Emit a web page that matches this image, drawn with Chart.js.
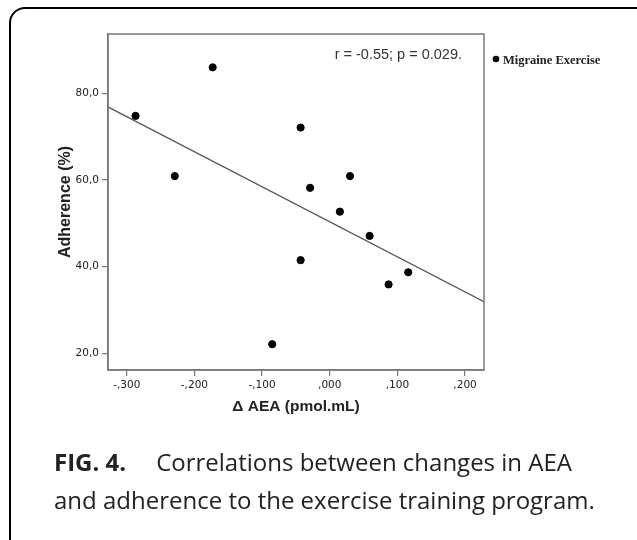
<!DOCTYPE html>
<html>
<head>
<meta charset="utf-8">
<script src="https://cdn.jsdelivr.net/npm/chart.js@4/dist/chart.umd.min.js"></script>
<style>
  body { margin: 0; background: #fff; }
  #wrap { position: relative; width: 637px; height: 540px; overflow: hidden; }
  #frame { position: absolute; left: 9px; top: 7px; width: 640px; height: 560px;
           border: 2.5px solid #000; border-radius: 16px; }
  #chart { position: absolute; left: 0; top: 0; }
  #caption { position: absolute; left: 54px; top: 443px; font-family: "Open Sans", sans-serif;
             font-size: 24px; line-height: 38px; color: #222; white-space: nowrap; }
  #caption b { font-weight: 700; margin-right: 30px; }
</style>
</head>
<body>
<div id="wrap">
  <div id="frame"></div>
  <canvas id="chart" width="637" height="540"></canvas>
  <div id="caption"><b>FIG. 4.</b>Correlations between changes in AEA<br>and adherence to the exercise training program.</div>
</div>
<script>
// data
var aeaChange = [-0.287, -0.229, -0.173, -0.043, -0.029, 0.030, 0.015, 0.059, -0.043, 0.116, 0.087, -0.085];
var adherence = [74.8, 60.9, 86.0, 72.1, 58.2, 60.9, 52.7, 47.1, 41.5, 38.7, 35.9, 22.1];

// fit line end points (as drawn)
var fitX = [-0.328, 0.228];
var fitY = [76.9, 31.9];

var xTicks = [-0.3, -0.2, -0.1, 0, 0.1, 0.2];
var yTicks = [20, 40, 60, 80];

var statText = "r = -0.55; p = 0.029.";

function fmtX(v) {
    var s = Math.abs(v).toFixed(3).replace("0.", ",");
    return (v < -1e-9 ? "-" : "") + s;
}
function fmtY(v) {
    return v.toFixed(1).replace(".", ",");
}

var points = aeaChange.map(function (x, i) { return { x: x, y: adherence[i] }; });
var fitLine = fitX.map(function (x, i) { return { x: x, y: fitY[i] }; });

var boxPlugin = {
    id: "box",
    afterDatasetsDraw: function (chart) {
        var ctx = chart.ctx, a = chart.chartArea;
        ctx.save();
        ctx.strokeStyle = "#7a7a7a";
        ctx.lineWidth = 1.5;
        ctx.strokeRect(a.left, a.top, a.right - a.left, a.bottom - a.top);

        // stats text
        ctx.fillStyle = "#333";
        ctx.font = "14.5px 'Liberation Sans', Arial, sans-serif";
        ctx.textAlign = "right";
        ctx.textBaseline = "middle";
        ctx.fillText(statText, a.right - 22, a.top + 21);

        // legend
        ctx.fillStyle = "#000";
        ctx.beginPath();
        ctx.arc(a.right + 12, a.top + 25, 3.3, 0, Math.PI * 2);
        ctx.fill();
        ctx.fillStyle = "#222";
        ctx.font = "bold 12.5px 'Liberation Serif', 'DejaVu Serif', serif";
        ctx.textAlign = "left";
        ctx.fillText(chart.data.datasets[0].label, a.right + 19, a.top + 27);
        ctx.restore();
    }
};

var ctx = document.getElementById("chart");

new Chart(ctx, {
    type: "scatter",
    data: {
        datasets: [{
            label: "Migraine Exercise",
            data: points,
            backgroundColor: "#000",
            borderColor: "#000",
            pointRadius: 3.6,
            pointHoverRadius: 3.6
        }, {
            label: "fit",
            data: fitLine,
            showLine: true,
            borderColor: "#555",
            borderWidth: 1.3,
            pointRadius: 0,
            fill: false
        }]
    },
    options: {
        responsive: false,
        animation: false,
        layout: { padding: { left: 56, top: 34, right: 153, bottom: 120 } },
        plugins: {
            legend: { display: false },
            tooltip: { enabled: false }
        },
        scales: {
            x: {
                type: "linear",
                min: -0.3277,
                max: 0.228,
                afterFit: function (s) { s.height = 50; },
                afterBuildTicks: function (s) { s.ticks = xTicks.map(function (v) { return { value: v }; }); },
                grid: { drawOnChartArea: false, drawTicks: true, tickLength: 6, color: "#777", lineWidth: 1.2 },
                border: { display: true, color: "#7a7a7a", width: 1.5 },
                ticks: {
                    callback: function (v) { return fmtX(v); },
                    color: "#222",
                    font: { size: 10.5, family: "'DejaVu Sans', sans-serif" },
                    padding: 3,
                    maxRotation: 0
                },
                title: {
                    display: true,
                    text: "\u0394 AEA (pmol.mL)",
                    color: "#222",
                    font: { size: 15.5, weight: "bold", family: "'Liberation Sans', Arial, sans-serif" },
                    padding: { top: 1 }
                }
            },
            y: {
                type: "linear",
                min: 16.15,
                max: 93.7,
                afterFit: function (s) { s.width = 52; },
                afterBuildTicks: function (s) { s.ticks = yTicks.map(function (v) { return { value: v }; }); },
                grid: { drawOnChartArea: false, drawTicks: true, tickLength: 6, color: "#777", lineWidth: 1.2 },
                border: { display: true, color: "#7a7a7a", width: 1.5 },
                ticks: {
                    callback: function (v) { return fmtY(v); },
                    color: "#222",
                    font: { size: 10.5, family: "'DejaVu Sans', sans-serif" },
                    padding: 3
                },
                title: {
                    display: true,
                    text: "Adherence (%)",
                    color: "#222",
                    font: { size: 16, weight: "bold", family: "'Liberation Sans', Arial, sans-serif" },
                    padding: { top: 0, bottom: 0 }
                }
            }
        }
    },
    plugins: [boxPlugin]
});
</script>
</body>
</html>
